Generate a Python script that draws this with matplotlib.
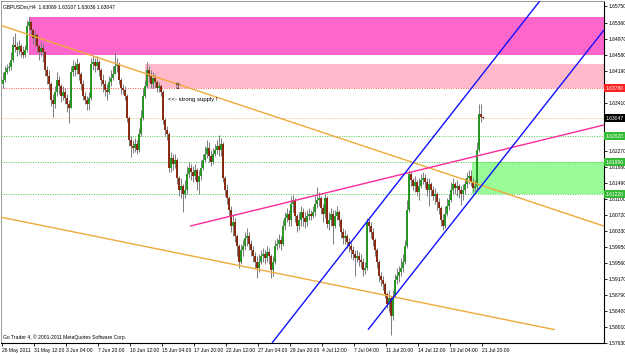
import numpy as np
import matplotlib
matplotlib.use("Agg")
import matplotlib.pyplot as plt
import matplotlib.transforms as mtransforms
from matplotlib.patches import Rectangle

# ── GBPUSDm H4 candles, prices in 1e-4 units (pips) ─────────────────────────
FIRST_OPEN = 16388
CLOSE = [
    16397, 16416, 16426, 16429, 16445, 16482, 16477, 16469, 16479, 16465,
    16457, 16469, 16527, 16537, 16518, 16498, 16506, 16479, 16465, 16474,
    16465, 16421, 16407, 16388, 16349, 16339, 16368, 16397, 16383, 16359,
    16368, 16354, 16339, 16330, 16416, 16431, 16421, 16436, 16412, 16388,
    16359, 16349, 16339, 16354, 16436, 16441, 16431, 16441, 16421, 16397,
    16388, 16373, 16368, 16392, 16402, 16412, 16431, 16436, 16397, 16378,
    16373, 16359, 16306, 16253, 16238, 16233, 16243, 16228, 16267, 16306,
    16359, 16383, 16421, 16407, 16388, 16402, 16392, 16378, 16383, 16368,
    16301, 16277, 16267, 16185, 16209, 16195, 16204, 16161, 16132, 16142,
    16122, 16132, 16171, 16185, 16175, 16166, 16180, 16151, 16166, 16185,
    16204, 16219, 16233, 16214, 16200, 16219, 16228, 16238, 16228, 16243,
    16161, 16132, 16113, 16084, 16045, 16055, 16021, 15997, 15959, 15987,
    15997, 16016, 16021, 16002, 15987, 15973, 15959, 15944, 15959, 15973,
    15978, 15968, 15983, 15973, 15939, 15959, 15997, 16002, 16012, 16002,
    16045, 16065, 16074, 16060, 16098, 16108, 16069, 16045, 16060, 16079,
    16065, 16055, 16069, 16074, 16069, 16079, 16098, 16108, 16113, 16089,
    16074, 16113, 16050, 16060, 16074, 16045, 16069, 16079, 16060, 16031,
    16016, 16021, 16007, 15997, 15987, 15978, 15968, 15973, 15963, 15959,
    15939, 15944, 16055, 16045, 16031, 16012, 15987, 15959, 15925, 15915,
    15906, 15881, 15857, 15872, 15828, 15877, 15915, 15925, 15934, 15944,
    15959, 15997, 16084, 16171, 16156, 16142, 16151, 16127, 16142, 16156,
    16161, 16151, 16132, 16147, 16132, 16118, 16122, 16103, 16089, 16060,
    16045, 16074, 16094, 16108, 16132, 16147, 16137, 16142, 16132, 16122,
    16132, 16147, 16161, 16166, 16151, 16137, 16142, 16228, 16315, 16307, 16305,
]
HIGH = [
    16416, 16431, 16436, 16441, 16465, 16503, 16510, 16489, 16494, 16484,
    16479, 16482, 16542, 16549, 16542, 16523, 16518, 16508, 16484, 16489,
    16484, 16469, 16431, 16421, 16392, 16363, 16383, 16416, 16407, 16388,
    16383, 16378, 16363, 16349, 16431, 16445, 16441, 16450, 16441, 16416,
    16397, 16368, 16359, 16368, 16450, 16455, 16450, 16455, 16445, 16426,
    16412, 16397, 16388, 16407, 16421, 16431, 16465, 16450, 16441, 16402,
    16388, 16383, 16363, 16310, 16262, 16253, 16257, 16253, 16282, 16325,
    16378, 16397, 16441, 16431, 16421, 16416, 16412, 16397, 16392, 16388,
    16373, 16306, 16286, 16272, 16224, 16219, 16219, 16209, 16166, 16161,
    16147, 16156, 16190, 16200, 16195, 16190, 16195, 16185, 16180, 16204,
    16219, 16238, 16253, 16248, 16228, 16233, 16243, 16253, 16265, 16257,
    16248, 16166, 16147, 16118, 16094, 16074, 16065, 16026, 16002, 16002,
    16012, 16031, 16041, 16031, 16012, 15997, 15983, 15973, 15978, 15987,
    15992, 15987, 15997, 15992, 15978, 15973, 16012, 16016, 16026, 16021,
    16060, 16079, 16089, 16084, 16118, 16120, 16113, 16074, 16079, 16094,
    16089, 16079, 16084, 16089, 16084, 16094, 16118, 16139, 16127, 16118,
    16098, 16122, 16118, 16079, 16089, 16084, 16084, 16094, 16084, 16065,
    16041, 16036, 16026, 16016, 16007, 15997, 15987, 15987, 15983, 15978,
    15968, 15959, 16065, 16065, 16055, 16041, 16016, 15992, 15963, 15934,
    15925, 15910, 15886, 15891, 15877, 15891, 15930, 15944, 15949, 15968,
    15978, 16012, 16108, 16180, 16175, 16161, 16166, 16156, 16161, 16171,
    16175, 16171, 16161, 16161, 16151, 16142, 16137, 16127, 16113, 16094,
    16074, 16094, 16113, 16122, 16151, 16161, 16151, 16156, 16147, 16142,
    16147, 16161, 16175, 16180, 16180, 16161, 16156, 16248, 16339, 16339, 16311,
]
LOW = [
    16378, 16392, 16412, 16419, 16421, 16441, 16465, 16455, 16460, 16453,
    16450, 16453, 16465, 16518, 16503, 16484, 16479, 16465, 16445, 16455,
    16441, 16407, 16388, 16373, 16335, 16308, 16330, 16359, 16363, 16344,
    16349, 16339, 16320, 16294, 16330, 16407, 16407, 16412, 16397, 16373,
    16349, 16339, 16325, 16325, 16349, 16421, 16416, 16421, 16407, 16383,
    16368, 16359, 16349, 16363, 16383, 16397, 16412, 16416, 16388, 16363,
    16363, 16349, 16296, 16238, 16212, 16221, 16224, 16219, 16224, 16262,
    16301, 16354, 16378, 16392, 16378, 16378, 16378, 16368, 16368, 16359,
    16291, 16262, 16253, 16175, 16175, 16180, 16185, 16147, 16118, 16113,
    16079, 16113, 16122, 16161, 16156, 16151, 16156, 16132, 16122, 16156,
    16180, 16200, 16209, 16200, 16190, 16195, 16214, 16219, 16214, 16214,
    16151, 16118, 16098, 16069, 16031, 16021, 16007, 15973, 15944, 15954,
    15973, 15987, 15997, 15987, 15973, 15959, 15944, 15920, 15934, 15954,
    15959, 15954, 15959, 15954, 15920, 15925, 15954, 15987, 15992, 15987,
    15997, 16036, 16055, 16045, 16045, 16079, 16055, 16031, 16036, 16045,
    16045, 16041, 16045, 16060, 16060, 16065, 16069, 16089, 16094, 16074,
    16055, 16065, 16041, 16036, 16045, 16002, 16041, 16060, 16045, 16016,
    16002, 16002, 15992, 15983, 15968, 15963, 15925, 15959, 15949, 15944,
    15925, 15930, 15939, 16031, 16016, 15997, 15973, 15944, 15910, 15901,
    15891, 15872, 15848, 15838, 15783, 15819, 15872, 15906, 15910, 15925,
    15934, 15954, 15992, 16079, 16142, 16132, 16127, 16118, 16108, 16137,
    16147, 16137, 16118, 16094, 16118, 16108, 16098, 16084, 16074, 16045,
    16036, 16041, 16069, 16084, 16103, 16122, 16122, 16118, 16113, 16096,
    16108, 16122, 16137, 16147, 16142, 16127, 16127, 16132, 16224, 16296, 16304,
]

HEADER = "GBPUSDm,H4  1.63069 1.63107 1.63036 1.63047"
FOOTER = "Go Trader 4, \u00a9 2001-2011 MetaQuotes Software Corp."

X_LABELS = ["26 May 2011", "31 May 12:00", "3 Jun 04:00", "7 Jun 20:00",
            "10 Jun 12:00", "15 Jun 04:00", "17 Jun 20:00", "22 Jun 12:00",
            "27 Jun 04:00", "29 Jun 20:00", "4 Jul 12:00", "7 Jul 04:00",
            "11 Jul 20:00", "14 Jul 12:00", "19 Jul 04:00", "21 Jul 20:00"]
Y_TICKS = [1.65750, 1.65360, 1.64970, 1.64580, 1.64190, 1.63800, 1.63410,
           1.63020, 1.62640, 1.62270, 1.61880, 1.61490, 1.61100, 1.60720,
           1.60330, 1.59950, 1.59560, 1.59170, 1.58790, 1.58400, 1.58010,
           1.57630]
HIDDEN_TICKS = [1.63800, 1.63020, 1.62640]   # covered by the coloured price tags

# zones: (first bar, low, high)
SUPPLY_ZONE = (13, 1.6457, 1.6549)
SUPPLY_ZONE2 = (71, 1.6378, 1.6436)
DEMAND_ZONE = (234.5, 1.6122, 1.6199)

SUPPLY_LEVEL = 1.6378
BID = 1.63047
GREEN_LEVELS = [1.6262, 1.6199, 1.6122]
GREEN_LABELS = ["1.62620", "1.61990", "1.61220"]

# trend lines: ((bar, price), (bar, price))
ORANGE_TOP = ((-1.5, 1.6530), (300.5, 1.6045))
ORANGE_LOW = ((-1.5, 1.6067), (276, 1.5795))
PINK_LINE = ((93.5, 1.6045), (300.5, 1.6289))
BLUE_1 = ((134.5, 1.5763), (268.7, 1.6590))
BLUE_2 = ((182.5, 1.5795), (300.5, 1.6518))

NOTE_POS = (82.5, 1.6351)
ARROW_POS = (85.0, 1.6381)

plt.rcParams["font.family"] = ["Liberation Sans", "DejaVu Sans"]
FS = 3.6

close = np.array(CLOSE) / 1e4
high = np.array(HIGH) / 1e4
low = np.array(LOW) / 1e4
opn = np.r_[FIRST_OPEN / 1e4, close[:-1]]
idx = np.arange(len(close))

fig = plt.figure(figsize=(6.25, 3.54), dpi=100, facecolor="white")
ax = fig.add_axes([1 / 625, 11 / 354, 603 / 625, 342 / 354])
XMAX = 300.5
ax.set_xlim(-1, XMAX)
ax.set_ylim(1.5763, 1.6588)

# zones (behind candles)
for (x0, lo, hi), col in [(SUPPLY_ZONE, "#ff66cc"), (SUPPLY_ZONE2, "#ffb9cb"),
                          (DEMAND_ZONE, "#98fb98")]:
    ax.add_patch(Rectangle((x0, lo), XMAX - x0 + 5, hi - lo, fc=col, ec="none", zorder=0))

# horizontal levels
ax.axhline(SUPPLY_LEVEL, color="#ff5050", lw=0.7, ls=(0, (1, 1.5)), zorder=1)
ax.axhline(BID, color="#f5d7a8", lw=0.7, ls=(0, (2, 1)), zorder=1)
for lv in GREEN_LEVELS:
    ax.axhline(lv, color="#44cc44", lw=0.7, ls=(0, (1, 1.5)), zorder=1)

# candles
ax.vlines(idx, low, high, color="#7c7c7c", lw=0.7, zorder=2)
up = close >= opn
ax.vlines(idx[up], opn[up], close[up], color="#1c941c", lw=1.35, zorder=3)
ax.vlines(idx[~up], opn[~up], close[~up], color="#862208", lw=1.35, zorder=3)

# trend lines
for (p0, p1), col in [(ORANGE_TOP, "#efaa3a"), (ORANGE_LOW, "#efaa3a"),
                      (PINK_LINE, "#ff2a9a"), (BLUE_1, "#1010ff"), (BLUE_2, "#1010ff")]:
    ax.plot([p0[0], p1[0]], [p0[1], p1[1]], color=col, lw=1.0, zorder=4,
            solid_capstyle="butt")

ax.text(*NOTE_POS, "<<- strong supply !", fontsize=4.3, va="center", ha="left", zorder=5)
ax.text(*ARROW_POS, "\u21e7", fontsize=6.5, va="center", ha="left",
        family="DejaVu Sans", zorder=5)

ax.text(0.004, 0.99, HEADER, transform=ax.transAxes, fontsize=FS, va="top", ha="left")
ax.text(0.004, 0.008, FOOTER, transform=ax.transAxes, fontsize=FS, va="bottom", ha="left")

# axes styling
for s in ["left", "top"]:
    ax.spines[s].set_color("#9a9a9a")
    ax.spines[s].set_linewidth(0.7)
for s in ["right", "bottom"]:
    ax.spines[s].set_color("black")
    ax.spines[s].set_linewidth(0.8)

ax.yaxis.tick_right()
ax.set_yticks(Y_TICKS)
ax.set_yticklabels(["" if v in HIDDEN_TICKS else f"{v:.5f}" for v in Y_TICKS])
ax.tick_params(axis="y", labelsize=FS, length=2.2, width=0.6, pad=0.8, direction="out")

ax.set_xticks(np.arange(len(X_LABELS)) * 16 - 0.5)
ax.set_xticklabels(X_LABELS, ha="left")
ax.tick_params(axis="x", labelsize=FS, length=2.5, width=0.6, pad=0.8, direction="out")
ax.tick_params(left=False, top=False)

# coloured price labels on the right axis
tr = mtransforms.blended_transform_factory(ax.transAxes, ax.transData)
labels = [(SUPPLY_LEVEL, "1.63780", "#ff2020"), (BID, "1.63047", "black")]
labels += [(lv, t, "#33bb33") for lv, t in zip(GREEN_LEVELS, GREEN_LABELS)]
for y, txt, col in labels:
    ax.text(1.003, y, txt, transform=tr, fontsize=FS, color="white",
            va="center", ha="left", clip_on=False, zorder=6,
            bbox=dict(boxstyle="square,pad=0.3", fc=col, ec="none"))

fig.savefig("out.png", dpi=100, facecolor="white")
